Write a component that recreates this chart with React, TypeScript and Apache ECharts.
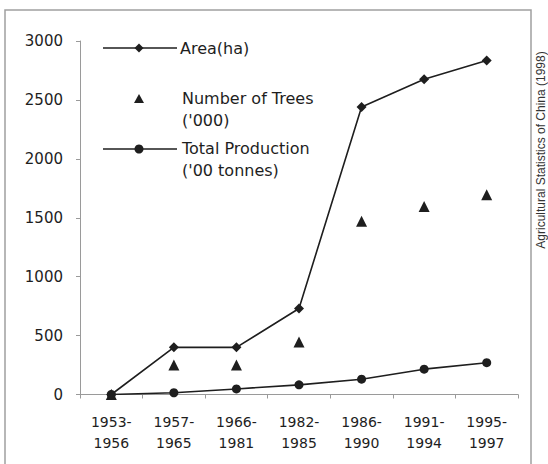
import React, { useEffect, useRef } from "react";
import * as echarts from "echarts";

const categories = ["1953-\n1956", "1957-\n1965", "1966-\n1981", "1982-\n1985", "1986-\n1990", "1991-\n1994", "1995-\n1997"];
const areaHa = [0, 400, 400, 730, 2440, 2675, 2835];
const numberOfTrees = [0, 250, 250, 445, 1470, 1595, 1695];
const totalProduction = [0, 15, 47, 82, 130, 215, 270];
const yTicks = { min: 0, max: 3000, interval: 500 };

const FONT = "'DejaVu Sans', sans-serif";
const INK = "#1e1e1e";

export default function App() {
  const ref = useRef<HTMLDivElement>(null);
  useEffect(() => {
    document.body.style.margin = "0";
    const chart = echarts.init(ref.current!, null, { renderer: "svg" });
    chart.setOption({
      animation: false,
      backgroundColor: "#ffffff",
      textStyle: { fontFamily: FONT },
      grid: { left: 80, right: 30, top: 41, bottom: 69.5 },
      xAxis: {
        type: "category",
        data: categories,
        boundaryGap: true,
        axisLine: { lineStyle: { color: "#9a9a9a", width: 1 } },
        axisTick: { show: true, length: 4, lineStyle: { color: "#9a9a9a" } },
        axisLabel: { color: INK, fontSize: 14, lineHeight: 21, margin: 17, fontFamily: FONT },
        splitLine: { show: false },
      },
      yAxis: {
        type: "value",
        min: yTicks.min,
        max: yTicks.max,
        interval: yTicks.interval,
        axisLine: { show: true, lineStyle: { color: "#9a9a9a", width: 1 } },
        axisTick: { show: true, length: 4, lineStyle: { color: "#9a9a9a" } },
        axisLabel: { color: INK, fontSize: 15, margin: 17, fontFamily: FONT, formatter: (v: number) => String(v) },
        splitLine: { show: false },
      },
      series: [
        {
          name: "Area(ha)",
          type: "line",
          data: areaHa,
          symbol: "diamond",
          symbolSize: 10,
          lineStyle: { color: INK, width: 1.6 },
          itemStyle: { color: INK },
          z: 3,
        },
        {
          name: "Number of Trees ('000)",
          type: "scatter",
          data: numberOfTrees,
          symbol: "triangle",
          symbolSize: 11,
          itemStyle: { color: INK, opacity: 1 },
          z: 2,
        },
        {
          name: "Total Production ('00 tonnes)",
          type: "line",
          data: totalProduction,
          symbol: "circle",
          symbolSize: 9,
          lineStyle: { color: INK, width: 1.6 },
          itemStyle: { color: INK },
          z: 4,
        },
      ],
      graphic: [
        {
          type: "rect",
          shape: { x: 5, y: 10, width: 526, height: 470 },
          style: { fill: "none", stroke: "#a0a0a0", lineWidth: 1.5 },
          silent: true,
        },
        {
          type: "text",
          x: 541,
          y: 150,
          rotation: Math.PI / 2,
          style: {
            text: "Agricultural Statistics of China (1998)",
            fontSize: 12,
            fontFamily: "'Liberation Sans', Arial, sans-serif",
            fill: "#333",
            align: "center",
            verticalAlign: "middle",
          },
        },
        // legend: Area
        { type: "line", shape: { x1: 103, y1: 48, x2: 177, y2: 48 }, style: { stroke: INK, lineWidth: 1.6 } },
        { type: "polygon", shape: { points: [[139, 43.5], [143.5, 48], [139, 52.5], [134.5, 48]] }, style: { fill: INK } },
        { type: "text", x: 180, y: 48, style: { text: "Area(ha)", fontSize: 16, fontFamily: FONT, fill: INK, verticalAlign: "middle" } },
        // legend: Trees
        { type: "polygon", shape: { points: [[139, 94], [144, 103], [134, 103]] }, style: { fill: INK } },
        { type: "text", x: 182, y: 109, style: { text: "Number of Trees\n('000)", fontSize: 16, lineHeight: 22, fontFamily: FONT, fill: INK, verticalAlign: "middle" } },
        // legend: Production
        { type: "line", shape: { x1: 103, y1: 149, x2: 177, y2: 149 }, style: { stroke: INK, lineWidth: 1.6 } },
        { type: "circle", shape: { cx: 139, cy: 149, r: 4.5 }, style: { fill: INK } },
        { type: "text", x: 182, y: 159, style: { text: "Total Production\n('00 tonnes)", fontSize: 16, lineHeight: 22, fontFamily: FONT, fill: INK, verticalAlign: "middle" } },
      ],
    });
    return () => chart.dispose();
  }, []);
  return <div ref={ref} style={{ width: 548, height: 464 }} />;
}
